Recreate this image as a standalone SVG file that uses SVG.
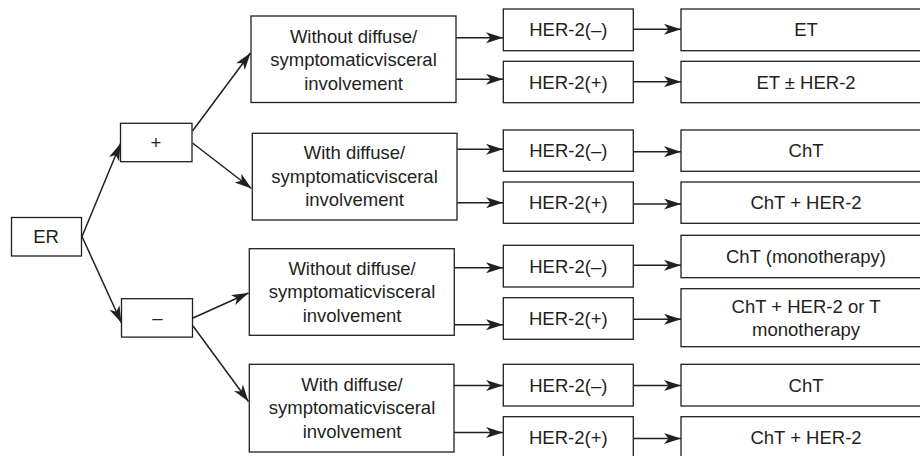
<svg xmlns="http://www.w3.org/2000/svg" width="920" height="456" viewBox="0 0 920 456">
<defs>
<style>
.box{fill:#fff;stroke:#231f20;stroke-width:1.3}
.t{font-family:"Liberation Sans",Arial,Helvetica,sans-serif;font-size:18.5px;fill:#231f20;text-anchor:middle}
.c{fill:none;stroke:#231f20;stroke-width:1.5}
</style>
<marker id="ah" markerUnits="userSpaceOnUse" markerWidth="18" markerHeight="12" refX="17" refY="5.5" orient="auto">
<path d="M0,0 L17,5.5 L0,11 L4.5,5.5 Z" fill="#231f20"/>
</marker>
</defs>
<rect width="920" height="456" fill="#fff"/>
<g id="connectors">
<line class="c" x1="82" y1="236.5" x2="120.5" y2="143.5" marker-end="url(#ah)"/>
<line class="c" x1="82" y1="236.5" x2="121.5" y2="323" marker-end="url(#ah)"/>
<line class="c" x1="192.5" y1="131" x2="250.5" y2="53" marker-end="url(#ah)"/>
<line class="c" x1="192.5" y1="143" x2="251.5" y2="188.5" marker-end="url(#ah)"/>
<line class="c" x1="193" y1="318" x2="248.5" y2="293" marker-end="url(#ah)"/>
<line class="c" x1="193" y1="326" x2="248.5" y2="401.5" marker-end="url(#ah)"/>
<line class="c" x1="456" y1="37.7" x2="503" y2="37.7" marker-end="url(#ah)"/>
<line class="c" x1="456" y1="79.3" x2="503" y2="79.3" marker-end="url(#ah)"/>
<line class="c" x1="457" y1="149.3" x2="503" y2="149.3" marker-end="url(#ah)"/>
<line class="c" x1="457" y1="202.7" x2="503" y2="202.7" marker-end="url(#ah)"/>
<line class="c" x1="454" y1="267.7" x2="503" y2="267.7" marker-end="url(#ah)"/>
<line class="c" x1="454" y1="324.7" x2="503" y2="324.7" marker-end="url(#ah)"/>
<line class="c" x1="454" y1="385.5" x2="503" y2="385.5" marker-end="url(#ah)"/>
<line class="c" x1="454" y1="432.5" x2="503" y2="432.5" marker-end="url(#ah)"/>
<line class="c" x1="633.3" y1="29.3" x2="681" y2="29.3" marker-end="url(#ah)"/>
<line class="c" x1="633.3" y1="81.7" x2="681" y2="81.7" marker-end="url(#ah)"/>
<line class="c" x1="633.3" y1="151.7" x2="681" y2="151.7" marker-end="url(#ah)"/>
<line class="c" x1="633.3" y1="204" x2="681" y2="204" marker-end="url(#ah)"/>
<line class="c" x1="633.3" y1="265.3" x2="681" y2="265.3" marker-end="url(#ah)"/>
<line class="c" x1="633.3" y1="319.3" x2="681" y2="319.3" marker-end="url(#ah)"/>
<line class="c" x1="633.3" y1="385.5" x2="681" y2="385.5" marker-end="url(#ah)"/>
<line class="c" x1="633.3" y1="438.5" x2="681" y2="438.5" marker-end="url(#ah)"/>
</g>
<g id="er"><rect class="box" x="11.5" y="217.5" width="70" height="38.5"/><text class="t" x="46" y="243">ER</text></g>
<g id="pos"><rect class="box" x="120.5" y="123.3" width="71.5" height="38.4"/><text class="t" x="156" y="148.5">+</text></g>
<g id="neg"><rect class="box" x="121.5" y="298.7" width="71" height="38.4"/><text class="t" x="157.5" y="324">–</text></g>
<g id="pos-without"><rect class="box" x="251" y="16" width="205" height="86.5"/><text class="t" x="353.5" y="42.5">Without diffuse/</text><text class="t" x="353.5" y="66">symptomaticvisceral</text><text class="t" x="353.5" y="89.5">involvement</text></g>
<g id="pos-with"><rect class="box" x="252.3" y="133.3" width="204.7" height="86.7"/><text class="t" x="354.5" y="159.3">With diffuse/</text><text class="t" x="354.5" y="182.8">symptomaticvisceral</text><text class="t" x="354.5" y="206.3">involvement</text></g>
<g id="neg-without"><rect class="box" x="249.3" y="248.7" width="205" height="86.6"/><text class="t" x="352" y="274.5">Without diffuse/</text><text class="t" x="352" y="298">symptomaticvisceral</text><text class="t" x="352" y="321.5">involvement</text></g>
<g id="neg-with"><rect class="box" x="249.3" y="364.3" width="204.7" height="87.7"/><text class="t" x="352" y="390.5">With diffuse/</text><text class="t" x="352" y="414">symptomaticvisceral</text><text class="t" x="352" y="437.5">involvement</text></g>
<g id="her1"><rect class="box" x="503.3" y="9" width="130" height="41.7"/><text class="t" x="568.3" y="36.3">HER-2(–)</text></g>
<g id="her2"><rect class="box" x="503.3" y="61.3" width="130" height="41.4"/><text class="t" x="568.3" y="88.5">HER-2(+)</text></g>
<g id="her3"><rect class="box" x="503.3" y="130" width="130" height="41.3"/><text class="t" x="568.3" y="157">HER-2(–)</text></g>
<g id="her4"><rect class="box" x="503.3" y="182" width="130" height="41.3"/><text class="t" x="568.3" y="209">HER-2(+)</text></g>
<g id="her5"><rect class="box" x="503.3" y="245.3" width="130" height="41.7"/><text class="t" x="568.3" y="272.5">HER-2(–)</text></g>
<g id="her6"><rect class="box" x="503.3" y="297.7" width="130" height="41.6"/><text class="t" x="568.3" y="324.8">HER-2(+)</text></g>
<g id="her7"><rect class="box" x="503.3" y="364.3" width="130" height="41.7"/><text class="t" x="568.3" y="391.5">HER-2(–)</text></g>
<g id="her8"><rect class="box" x="503.3" y="416.7" width="130" height="41.6"/><text class="t" x="568.3" y="443.5">HER-2(+)</text></g>
<g id="res1"><rect class="box" x="681" y="9" width="260" height="41.7"/><text class="t" x="806" y="36.3">ET</text></g>
<g id="res2"><rect class="box" x="681" y="61.3" width="260" height="41.4"/><text class="t" x="806" y="88.5">ET ± HER-2</text></g>
<g id="res3"><rect class="box" x="681" y="130" width="260" height="41.3"/><text class="t" x="806" y="157">ChT</text></g>
<g id="res4"><rect class="box" x="681" y="182" width="260" height="41.3"/><text class="t" x="806" y="209">ChT + HER-2</text></g>
<g id="res5"><rect class="box" x="681" y="235.3" width="260" height="42.4"/><text class="t" x="806" y="262.5">ChT (monotherapy)</text></g>
<g id="res6"><rect class="box" x="681" y="288.7" width="260" height="58"/><text class="t" x="806" y="313">ChT + HER-2 or T</text><text class="t" x="806" y="336">monotherapy</text></g>
<g id="res7"><rect class="box" x="681" y="364.3" width="260" height="41.7"/><text class="t" x="806" y="391.5">ChT</text></g>
<g id="res8"><rect class="box" x="681" y="416.7" width="260" height="41.6"/><text class="t" x="806" y="443.5">ChT + HER-2</text></g>
</svg>
